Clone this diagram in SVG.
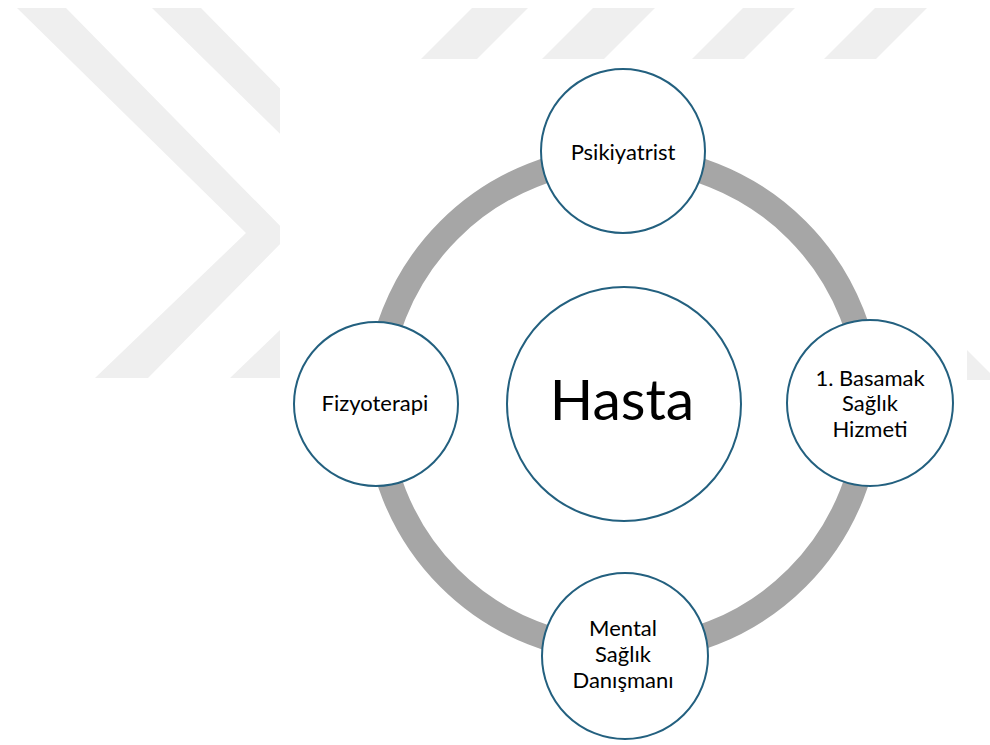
<svg xmlns="http://www.w3.org/2000/svg" width="990" height="745" viewBox="0 0 990 745">
<style>
.wm{fill:#efefef}
.ring{fill:none;stroke:#a6a6a6;stroke-width:25}
.node{fill:#ffffff;stroke:#23607f;stroke-width:2}
.lbl{font-family:Lato,"Liberation Sans",sans-serif;font-size:22px;fill:#000;text-anchor:middle}
.big{font-family:Lato,"Liberation Sans",sans-serif;font-size:57px;fill:#000;text-anchor:middle}
</style>
<rect width="990" height="745" fill="#ffffff"/>
<g id="watermark">
<polygon class="wm" points="17,8 66,8 289,235 148,378 95,378 246,233"/>
<polygon class="wm" points="152,8 201,8 424,235 283,378 230,378 381,233"/>
<polygon class="wm" points="472,8 528,8 477,59 421,59"/>
<polygon class="wm" points="593,8 655,8 604,59 542,59"/>
<polygon class="wm" points="743,8 795,8 744,59 692,59"/>
<polygon class="wm" points="875,8 927,8 876,59 824,59"/>
<polygon class="wm" points="967,350 990,373 990,380 967,380"/>
<rect x="280" y="59" width="687" height="686" fill="#ffffff"/>
</g>
<g id="connectors">
<path class="ring" d="M623,158 A246,246 0 0 1 869,404"/>
<path class="ring" d="M869,404 A246,246 0 0 1 623,650"/>
<path class="ring" d="M623,650 A246,246 0 0 1 377,404"/>
<path class="ring" d="M377,404 A246,246 0 0 1 623,158"/>
</g>
<g id="hasta">
<circle class="node" cx="624" cy="404" r="117"/>
<text class="big" x="622" y="420">Hasta</text>
</g>
<g id="psikiyatrist">
<circle class="node" cx="623" cy="151" r="82"/>
<text class="lbl" x="623" y="160">Psikiyatrist</text>
</g>
<g id="basamak">
<circle class="node" cx="870" cy="403" r="83"/>
<text class="lbl" x="870" y="386">1. Basamak</text>
<text class="lbl" x="870" y="411">Sağlık</text>
<text class="lbl" x="870" y="437">Hizmeti</text>
</g>
<g id="mental">
<circle class="node" cx="625" cy="656" r="83"/>
<text class="lbl" x="623" y="636">Mental</text>
<text class="lbl" x="623" y="662">Sağlık</text>
<text class="lbl" x="623" y="688">Danışmanı</text>
</g>
<g id="fizyoterapi">
<circle class="node" cx="376" cy="404" r="82"/>
<text class="lbl" x="375" y="411">Fizyoterapi</text>
</g>
</svg>
